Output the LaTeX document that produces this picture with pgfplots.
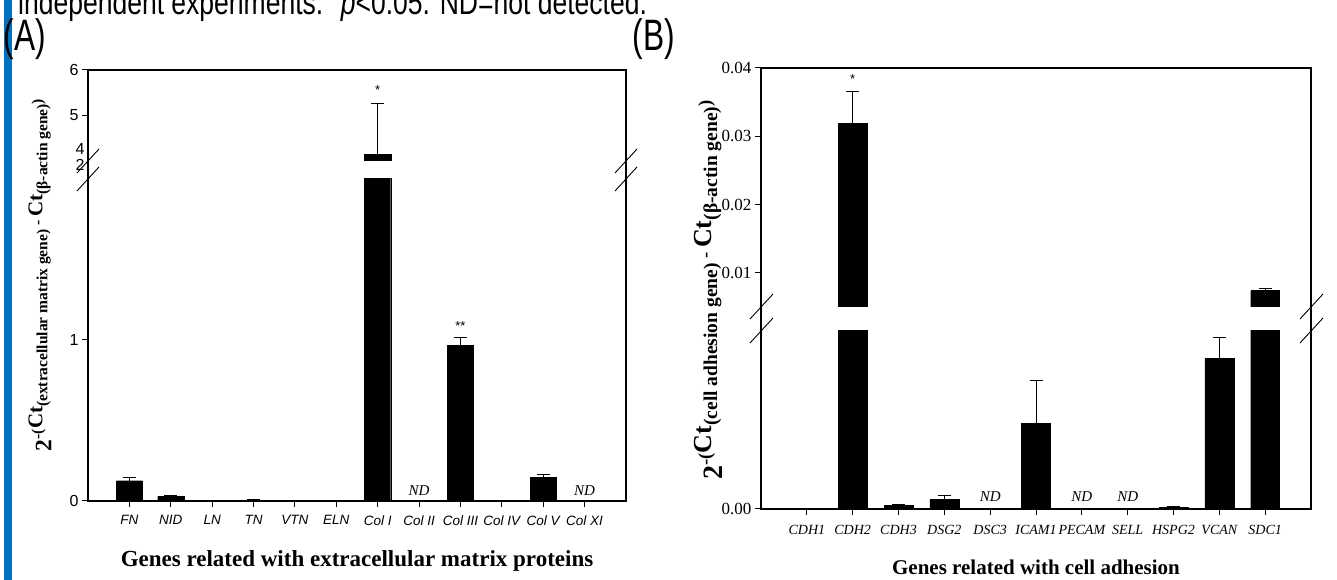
\documentclass[border=0pt]{standalone}
\usepackage{fontspec}
\setmainfont{Liberation Serif}
\setsansfont{Liberation Sans}
\usepackage{pgfplots}
\usepackage{pgfplotstable}
\pgfplotsset{compat=1.18}
\definecolor{sidebar}{RGB}{0,112,192}

% Panel A (extracellular matrix genes); Col II and Col XI not detected
\pgfplotstableread{
x y
0 0.126
1 0.028
2 0.002
3 0.004
4 0.001
5 0.001
6 4.15
8 0.967
9 0.001
10 0.148
}\barsA
\pgfplotstableread{
x y err
0 0.126 0.019
1 0.028 0.004
3 0.004 0.004
8 0.967 0.048
10 0.148 0.017
}\errAlow
\pgfplotstableread{
x y err
6 4.15 1.11
}\errAup
% Panel B (cell adhesion genes); DSC3, PECAM, SELL not detected
\pgfplotstableread{
x y
0 0
1 0.0319
2 0.0001
3 0.00026
5 0.0024
8 0.00005
9 0.0042
10 0.0074
}\barsB
\pgfplotstableread{
x y err
2 0.0001 0.00003
3 0.00026 0.00013
5 0.0024 0.0012
8 0.00005 0.00001
9 0.0042 0.0006
}\errBlow
\pgfplotstableread{
x y err
1 0.0319 0.0047
10 0.0074 0.0003
}\errBup

\newcommand\fs[1]{\fontsize{#1}{#1}\selectfont}

\pgfplotsset{
  panel/.style={
    scale only axis, anchor=south west,
    axis line style={draw=none},
    tick align=outside, major tick length=6pt,
    tick style={black, line width=1pt},
    ytick pos=left, xtick pos=bottom,
    scaled y ticks=false,
    /pgf/number format/assume math mode=true,
    clip marker paths=true,
  },
  barplot/.style={ybar, bar width=0.63, bar shift=0pt, fill=black, draw=black, line width=0.4pt},
  errplot/.style={ybar, bar width=0.63, bar shift=0pt, draw=none, fill=none,
    error bars/.cd, y dir=plus, y explicit,
    error bar style={draw=black, line width=0.9pt},
    error mark options={draw=black, rotate=90, mark size=6.5pt, line width=0.9pt}},
}

\begin{document}
\begin{tikzpicture}[x=1pt,y=1pt]
\useasboundingbox (0,0) rectangle (1337,580);
\fill[sidebar] (4,0) rectangle (12,580);
\node[anchor=base west, font=\sffamily\fs{34}, inner sep=0pt, xscale=0.78] at (18,565) {independent experiments. \textsuperscript{*}\textit{p}<0.05. ND=not detected.};
\node[font=\sffamily\fs{44}, xscale=0.72] at (25,541) {(A)};
\node[font=\sffamily\fs{44}, xscale=0.72] at (654,541) {(B)};

% ---------- Panel A ----------
\begin{axis}[panel, at={(88pt,79pt)}, width=538pt, height=322pt,
  xmin=-1, xmax=12, ymin=0, ymax=2,
  xtick={0,...,11},
  xticklabels={FN,NID,LN,TN,VTN,ELN,Col I,Col II,Col III,Col IV,Col V,Col XI},
  xticklabel style={font=\sffamily\itshape\fs{13.5}, yshift=-5pt},
  ytick={0,1}, yticklabel style={font=\sffamily\fs{16}},
  extra y ticks={2}, extra y tick style={major tick length=0pt, yticklabel style={yshift=14pt}},
]
\addplot[barplot] table[x=x,y=y]{\barsA};
\addplot[errplot] table[x=x,y=y,y error=err]{\errAlow};
\node[font=\sffamily\fs{13}] at (axis cs:8,1.015) [yshift=12pt] {**};
\node[font=\itshape\fs{15}] at (axis cs:7,0) [yshift=10pt] {ND};
\node[font=\itshape\fs{15}] at (axis cs:11,0) [yshift=10pt] {ND};
\end{axis}

\begin{axis}[panel, at={(88pt,419pt)}, width=538pt, height=91pt,
  xmin=-1, xmax=12, ymin=4, ymax=6, xtick=\empty,
  ytick={5,6}, yticklabel style={font=\sffamily\fs{16}},
  extra y ticks={4}, extra y tick style={major tick length=0pt, yticklabel style={yshift=12pt}},
]
\addplot[ybar, bar width=0.63, bar shift=0pt, fill=black, draw=black, error bars/.cd, y dir=plus, y explicit,
    error bar style={draw=black, line width=0.9pt},
    error mark options={draw=black, rotate=90, mark size=6.5pt, line width=0.9pt}]
  table[x=x,y=y,y error=err]{\errAup};
\node[font=\sffamily\fs{13}] at (axis cs:6,5.26) [yshift=14pt] {*};
\end{axis}

\begin{scope}[line width=1.1pt]
\draw (88,79) -- (626,79) -- (626,510) -- (88,510) -- cycle;
\end{scope}
\begin{scope}[line width=0.9pt]
\draw (77,389) -- ++(22,24);
\draw (77,407) -- ++(22,24);
\draw (615,389) -- ++(22,24);
\draw (615,407) -- ++(22,24);
\end{scope}

\node[rotate=90, font=\bfseries] at (40,305) {\fs{23.5}2\raisebox{9pt}{\fs{15.5}-(\fs{21}Ct\raisebox{-5pt}{\fs{15.5}(extracellular matrix gene)}\fs{15.5}{} - \fs{21}Ct\raisebox{-5pt}{\fs{15.5}(β-actin gene)}\fs{15.5})}};
\node[font=\bfseries\fs{23}] at (357,19) {Genes related with extracellular matrix proteins};

% ---------- Panel B ----------
\begin{axis}[panel, at={(761pt,71pt)}, width=550pt, height=179pt,
  xmin=-1, xmax=11, ymin=0, ymax=0.005,
  xtick={0,...,10},
  xticklabels={CDH1,CDH2,CDH3,DSG2,DSC3,ICAM1,PECAM,SELL,HSPG2,VCAN,SDC1},
  xticklabel style={font=\itshape\fs{14}, yshift=-7pt},
  ytick={0}, yticklabels={0.00}, yticklabel style={font=\fs{17}},
]
\addplot[barplot] table[x=x,y=y]{\barsB};
\addplot[errplot] table[x=x,y=y,y error=err]{\errBlow};
\node[font=\itshape\fs{15}] at (axis cs:4,0) [yshift=12pt] {ND};
\node[font=\itshape\fs{15}] at (axis cs:6,0) [yshift=12pt] {ND};
\node[font=\itshape\fs{15}] at (axis cs:7,0) [yshift=12pt] {ND};
\end{axis}

\begin{axis}[panel, at={(761pt,273pt)}, width=550pt, height=239pt,
  xmin=-1, xmax=11, ymin=0.005, ymax=0.04, xtick=\empty,
  ytick={0.01,0.02,0.03,0.04}, yticklabels={0.01,0.02,0.03,0.04},
  yticklabel style={font=\fs{17}},
]
\addplot[ybar, bar width=0.63, bar shift=0pt, fill=black, draw=black, error bars/.cd, y dir=plus, y explicit,
    error bar style={draw=black, line width=0.9pt},
    error mark options={draw=black, rotate=90, mark size=6.5pt, line width=0.9pt}]
  table[x=x,y=y,y error=err]{\errBup};
\node[font=\sffamily\fs{13}] at (axis cs:1,0.0366) [yshift=12pt] {*};
\end{axis}

\begin{scope}[line width=1.1pt]
\draw (761,71) -- (1311,71) -- (1311,512) -- (761,512) -- cycle;
\end{scope}
\begin{scope}[line width=0.9pt]
\draw (750,261) -- ++(23,25);
\draw (750,237) -- ++(23,25);
\draw (1300,261) -- ++(23,25);
\draw (1300,237) -- ++(23,25);
\end{scope}

\node[rotate=90, font=\bfseries] at (708,290) {\fs{28}2\raisebox{11pt}{\fs{18.5}-(\fs{26}Ct\raisebox{-6pt}{\fs{19.5}(cell adhesion gene)}\fs{18.5}{} - \fs{26}Ct\raisebox{-6pt}{\fs{19.5}(β-actin gene)}\fs{18.5})}};
\node[font=\bfseries\fs{21}] at (1036,13) {Genes related with cell adhesion};
\end{tikzpicture}
\end{document}
